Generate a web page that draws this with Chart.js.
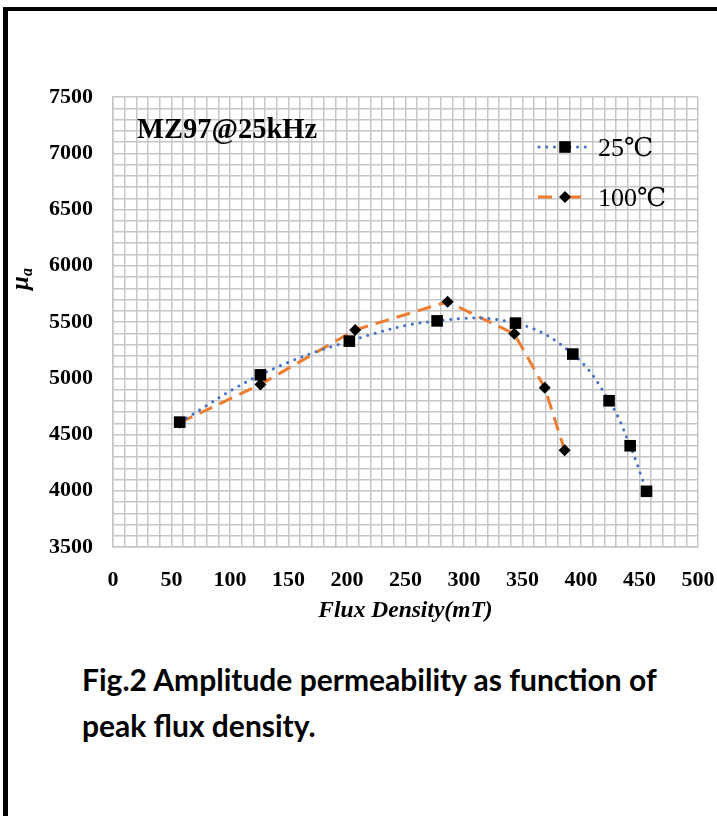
<!DOCTYPE html>
<html>
<head>
<meta charset="utf-8">
<script src="https://cdn.jsdelivr.net/npm/chart.js@4"></script>
<style>
  html, body { margin: 0; padding: 0; background: #fff; }
  body { width: 717px; height: 816px; position: relative; overflow: hidden; }
  .frame { position: absolute; left: 3px; top: 7px; right: -10px; bottom: -10px;
           border-left: 5px solid #000; border-top: 4px solid #000; }
  #wrap { position: absolute; left: 0; top: 0; width: 717px; height: 650px; }
  .caption { position: absolute; left: 82px; top: 656px; width: 630px;
             font-family: Lato, "Open Sans", sans-serif; font-weight: 700;
             font-size: 30px; line-height: 46px; color: #000; white-space: nowrap; }
</style>
</head>
<body>
<div class="frame"></div>
<div id="wrap"><canvas id="permChart" width="717" height="650"></canvas></div>
<div class="caption">Fig.2 Amplitude permeability as function of<br>peak flux density.</div>
<script>
// flux density (mT) and amplitude permeability
const flux25 = [57, 126, 202, 277, 344, 393, 424, 442, 456];
const mu25 = [4610, 5030, 5330, 5510, 5490, 5215, 4800, 4400, 3995];
const flux100 = [57, 126, 207, 286, 343, 369, 386];
const mu100 = [4605, 4945, 5430, 5680, 5395, 4915, 4360];
const seriesNames = ['25\u2103', '100\u2103'];
const xTickLabels = [0, 50, 100, 150, 200, 250, 300, 350, 400, 450, 500];
const yTickLabels = [3500, 4000, 4500, 5000, 5500, 6000, 6500, 7000, 7500];

const serif = '"Liberation Serif", "Times New Roman", "DejaVu Serif", serif';
const toPoints = (xs, ys) => xs.map((x, i) => ({ x: x, y: ys[i] }));

function drawMarker(ctx, style, x, y, r) {
    ctx.beginPath();
    if (style === 'rect') {
        const s = Math.SQRT1_2 * r;
        ctx.rect(x - s, y - s, 2 * s, 2 * s);
    } else {
        ctx.moveTo(x - r, y);
        ctx.lineTo(x, y - r);
        ctx.lineTo(x + r, y);
        ctx.lineTo(x, y + r);
        ctx.closePath();
    }
    ctx.fillStyle = '#000';
    ctx.fill();
}

const extras = {
    id: 'extras',
    afterDraw(chart) {
        const ctx = chart.ctx;
        ctx.save();
        // inner label
        ctx.fillStyle = '#000';
        ctx.font = 'bold 28.5px ' + serif;
        ctx.textBaseline = 'alphabetic';
        ctx.textAlign = 'left';
        ctx.fillText('MZ97@25kHz', 137, 138);

        // y axis title mu_a
        ctx.save();
        ctx.translate(28, 290);
        ctx.rotate(-Math.PI / 2);
        ctx.font = 'italic bold 25px ' + serif;
        ctx.fillText('\u03bc', 0, 0);
        const w = ctx.measureText('\u03bc').width;
        ctx.font = 'italic bold 16px ' + serif;
        ctx.fillText('a', w, 4);
        ctx.restore();

        // legend
        const rows = [147, 197];
        chart.data.datasets.forEach((ds, i) => {
            const y = rows[i];
            ctx.save();
            ctx.strokeStyle = ds.borderColor;
            ctx.lineWidth = ds.borderWidth;
            ctx.lineCap = ds.borderCapStyle || 'butt';
            ctx.setLineDash(ds.borderDash || []);
            ctx.beginPath();
            if (i === 0) {
                ctx.moveTo(539, y); ctx.lineTo(589, y);
            } else {
                ctx.moveTo(538, y); ctx.lineTo(552, y);
                ctx.moveTo(568, y); ctx.lineTo(581, y);
            }
            ctx.stroke();
            ctx.restore();
            drawMarker(ctx, ds.pointStyle, 565, y, ds.pointRadius);
            ctx.fillStyle = '#000';
            ctx.font = '26px ' + serif;
            ctx.fillText(ds.label, 598, y + 9);
        });
        ctx.restore();
    }
};

const ctx = document.getElementById('permChart').getContext('2d');
const permChart = new Chart(ctx, {
    type: 'scatter',
    data: {
        datasets: [{
            label: seriesNames[0],
            data: toPoints(flux25, mu25),
            showLine: true,
            borderColor: '#4472C4',
            borderWidth: 3,
            borderDash: [0.1, 7.6],
            borderCapStyle: 'round',
            tension: 0.4,
            pointStyle: 'rect',
            pointRadius: 8.2,
            pointHoverRadius: 8.2,
            pointBackgroundColor: '#000',
            pointBorderColor: '#000',
            pointBorderWidth: 0
        }, {
            label: seriesNames[1],
            data: toPoints(flux100, mu100),
            showLine: true,
            borderColor: '#ED7D31',
            borderWidth: 3,
            borderDash: [14, 8],
            tension: 0,
            pointStyle: 'rectRot',
            pointRadius: 6,
            pointHoverRadius: 6,
            pointBackgroundColor: '#000',
            pointBorderColor: '#000',
            pointBorderWidth: 0
        }]
    },
    options: {
        responsive: false,
        animation: false,
        events: [],
        layout: { padding: { top: 97, right: 19, left: 0, bottom: 0 } },
        plugins: {
            legend: { display: false },
            tooltip: { enabled: false }
        },
        scales: {
            x: {
                type: 'linear',
                min: 0,
                max: 500,
                afterFit: (s) => { s.height = 103; s.paddingLeft = 0; s.paddingRight = 0; },
                grid: { color: '#c6c6c6', lineWidth: 1.5, drawTicks: false },
                border: { color: '#c6c6c6', width: 1.5 },
                ticks: {
                    stepSize: 10,
                    autoSkip: false,
                    maxRotation: 0,
                    padding: 20,
                    color: '#000',
                    font: { family: serif, size: 22, weight: 'bold' },
                    callback: (v) => xTickLabels.includes(v) ? String(v) : ''
                },
                title: {
                    display: true,
                    text: 'Flux Density(mT)',
                    color: '#000',
                    font: { family: serif, size: 23.5, weight: 'bold', style: 'italic' },
                    padding: { top: 0, bottom: 25 }
                }
            },
            y: {
                min: 3500,
                max: 7500,
                afterFit: (s) => { s.width = 113; s.paddingTop = 0; s.paddingBottom = 0; },
                grid: { color: '#c6c6c6', lineWidth: 1.5, drawTicks: false },
                border: { color: '#c6c6c6', width: 1.5 },
                ticks: {
                    stepSize: 100,
                    autoSkip: false,
                    padding: 20,
                    color: '#000',
                    font: { family: serif, size: 22, weight: 'bold' },
                    callback: (v) => yTickLabels.includes(v) ? String(v) : ''
                }
            }
        }
    },
    plugins: [extras]
});
</script>
</body>
</html>
